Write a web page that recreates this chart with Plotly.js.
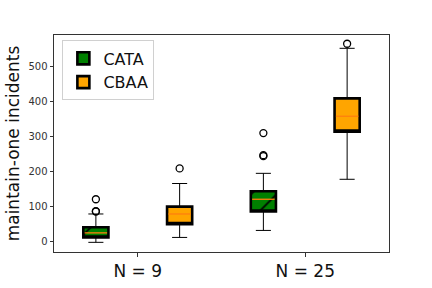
<!DOCTYPE html>
<html><head><meta charset="utf-8">
<script src="https://cdn.plot.ly/plotly-3.0.1.min.js"></script>
<style>html,body{margin:0;padding:0;background:#fff}#chart{width:432px;height:288px}</style>
</head><body><div id="chart"></div>
<script>
const groups = ["N = 9", "N = 25"];
const groupPos = [0, 1];
const series = ["CATA", "CBAA"];
const colors = ["green", "orange"];
const cataLower = [-1, 33], cataQ1 = [13, 87], cataMedian = [26, 122], cataQ3 = [42, 145], cataUpper = [80, 196];
const cbaaLower = [13, 179], cbaaQ1 = [51, 315], cbaaMedian = [80, 359], cbaaQ3 = [101, 410], cbaaUpper = [167, 553];
const cataOutliers = [[87, 88, 122], [245, 248, 311]];
const cbaaOutliers = [[210], [566]];
const yTicks = [0, 100, 200, 300, 400, 500];

const offset = 0.25, boxW = 0.15;
const stats = [
  {lo: cataLower, q1: cataQ1, med: cataMedian, q3: cataQ3, hi: cataUpper, out: cataOutliers, off: -offset},
  {lo: cbaaLower, q1: cbaaQ1, med: cbaaMedian, q3: cbaaQ3, hi: cbaaUpper, out: cbaaOutliers, off: offset}
];
const traces = [];
stats.forEach((s, i) => {
  const pos = groupPos.map(p => p + s.off);
  // whiskers (thin); median placed on box edge so only the orange median shows
  traces.push({type: 'box', x: pos, q1: s.q1, median: s.q1, q3: s.q3, lowerfence: s.lo, upperfence: s.hi,
    width: boxW, whiskerwidth: 0.6, fillcolor: colors[i], line: {color: 'black', width: 1},
    boxpoints: false, showlegend: false, hoverinfo: 'skip'});
  // thick box outline
  traces.push({type: 'box', x: pos, q1: s.q1, median: s.q1, q3: s.q3, lowerfence: s.q1, upperfence: s.q3,
    width: boxW, whiskerwidth: 0, fillcolor: colors[i], line: {color: 'black', width: 2.6},
    boxpoints: false, name: series[i], showlegend: true, hoverinfo: 'skip'});
  // hatch for CATA
  if (i === 0) {
    pos.forEach((p, k) => {
      traces.push({type: 'scatter', mode: 'lines', x: [p - boxW/2, p + boxW/2, p + boxW/2, p - boxW/2, p - boxW/2],
        y: [s.q1[k], s.q1[k], s.q3[k], s.q3[k], s.q1[k]], fill: 'toself', fillcolor: 'rgba(0,0,0,0)',
        fillpattern: {shape: '/', size: 18, solidity: 0.1, fgcolor: 'black', bgcolor: 'rgba(0,0,0,0)'},
        line: {width: 0, color: 'rgba(0,0,0,0)'}, showlegend: false, hoverinfo: 'skip'});
    });
  }
  // median lines
  pos.forEach((p, k) => {
    traces.push({type: 'scatter', mode: 'lines', x: [p - boxW/2 + 0.008, p + boxW/2 - 0.008], y: [s.med[k], s.med[k]],
      line: {color: '#ff7f0e', width: 1.3}, showlegend: false, hoverinfo: 'skip'});
  });
  // outliers
  const ox = [], oy = [];
  s.out.forEach((arr, k) => arr.forEach(v => { ox.push(pos[k]); oy.push(v); }));
  traces.push({type: 'scatter', mode: 'markers', x: ox, y: oy,
    marker: {symbol: 'circle-open', size: 7, color: 'black', line: {width: 1.3}}, showlegend: false, hoverinfo: 'skip'});
});

const layout = {
  width: 432, height: 288,
  margin: {l: 54, r: 43, t: 35, b: 36},
  paper_bgcolor: 'white', plot_bgcolor: 'white',
  font: {family: 'DejaVu Sans', color: '#222'},
  xaxis: {range: [-0.5, 1.5], tickvals: groupPos, ticktext: groups, tickfont: {size: 17, color: '#111'},
    showgrid: false, zeroline: false, showline: true, linecolor: '#333', linewidth: 1, mirror: true,
    ticks: 'outside', ticklen: 3.5, tickcolor: '#333'},
  yaxis: {range: [-28.6, 591], tickvals: yTicks, tickfont: {size: 10, color: '#333'},
    title: {text: 'maintain-one incidents', font: {size: 17, color: '#111'}, standoff: 4},
    showgrid: false, zeroline: false, showline: true, linecolor: '#333', linewidth: 1, mirror: true,
    ticks: 'outside', ticklen: 3.5, tickcolor: '#333'},
  legend: {x: 0.025, y: 0.975, xanchor: 'left', yanchor: 'top', bordercolor: '#d0d0d0', borderwidth: 1,
    bgcolor: 'rgba(255,255,255,0.8)', font: {size: 16, color: '#111'}},
  showlegend: true
};
Plotly.newPlot('chart', traces, layout, {displayModeBar: false, staticPlot: true});
</script></body></html>
